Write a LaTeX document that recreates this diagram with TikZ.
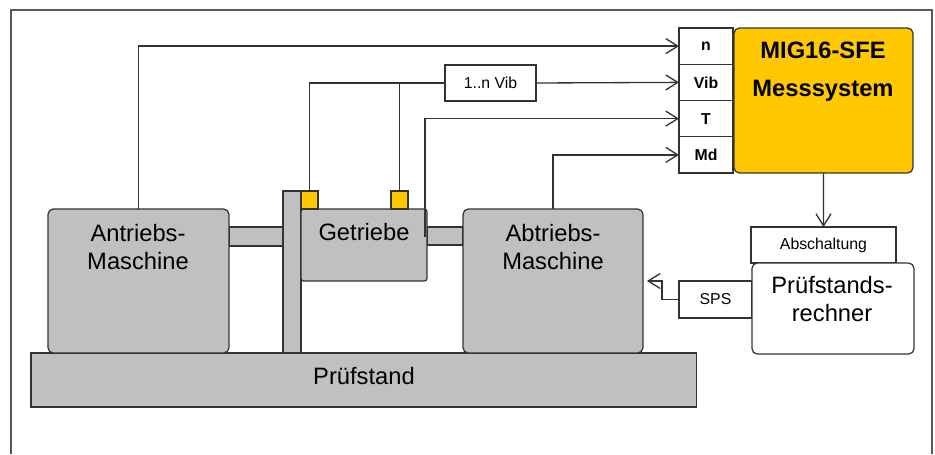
\documentclass[tikz,border=0pt]{standalone}
\usepackage{fontspec}
\setmainfont{Liberation Sans}
\usetikzlibrary{arrows.meta,positioning}
\definecolor{mgray}{HTML}{C0C0C0}
\definecolor{myel}{HTML}{FFC800}
\definecolor{lne}{HTML}{333333}
\tikzset{
  mch/.style={rectangle,rounded corners=3pt,draw=lne,fill=mgray,line width=.7pt,inner sep=0pt,outer sep=0pt,anchor=north west},
  shf/.style={rectangle,draw=lne,fill=mgray,line width=.7pt,inner sep=0pt,outer sep=0pt,anchor=north west},
  sen/.style={rectangle,draw=lne,fill=myel,line width=.7pt,inner sep=0pt,outer sep=0pt,anchor=north west,minimum width=3.4mm,minimum height=3.6mm},
  ibx/.style={rectangle,draw=lne,fill=white,line width=.7pt,inner sep=0pt,outer sep=0pt,minimum width=10.8mm,minimum height=7.25mm,font=\fontsize{9}{10}\selectfont\bfseries},
  bx/.style={rectangle,draw=lne,fill=white,line width=.7pt,inner sep=0pt,outer sep=0pt,anchor=north west,font=\fontsize{9}{10}\selectfont},
  frm/.style={draw=black!65,line width=.9pt},
  wire/.style={draw=lne,line width=.75pt},
  sig/.style={wire,-{Straight Barb[length=2.4mm,width=3mm]}},
  lbig/.style={font=\fontsize{13.5}{16}\selectfont,align=center,inner sep=0pt},
}

\begin{document}
\begin{tikzpicture}[x=0.02cm,y=-0.02cm]
\useasboundingbox (0,0) rectangle (935,454);
\draw[frm] (11,454) -- (11,10) -- (932,10) -- (932,454);
% --- test bench with drive, gearbox and load
\node[shf,minimum width=13.32cm,minimum height=1.08cm] (pst) at (31,353) {};
\node[lbig] (pstT) at (364,376) {Prüfstand};
\node[shf,minimum width=1.08cm,minimum height=0.38cm] (shfA) at (229,227) {};
\node[shf,minimum width=0.72cm,minimum height=0.36cm] (shfB) at (427,227) {};
\node[shf,minimum width=0.36cm,minimum height=3.24cm] (col) at (283,191) {};
\node[mch,minimum width=3.62cm,minimum height=2.88cm] (antr) at (48,209) {};
\node[lbig] (antrT) at (138,247) {Antriebs-\\Maschine};
\node[mch,rounded corners=1.5pt,minimum width=2.52cm,minimum height=1.44cm] (getr) at (301,209) {};
\node[lbig] (getrT) at (364,232) {Getriebe};
\node[sen] (senA) at (301,191) {};
\node[sen] (senB) at (391,191) {};
\node[mch,minimum width=3.6cm,minimum height=2.88cm] (abtr) at (463,209) {};
\node[lbig] (abtrT) at (553,247) {Abtriebs-\\Maschine};
% --- measuring system with its four inputs
\node[ibx,anchor=north west] (nIn) at (679,28) {n};
\node[ibx,below=0pt of nIn] (vibIn) {Vib};
\node[ibx,below=0pt of vibIn] (tIn) {T};
\node[ibx,below=0pt of tIn] (mdIn) {Md};
\node[mch,fill=myel,minimum width=3.58cm,minimum height=2.9cm] (mig) at (734,28) {};
\node[lbig,font=\fontsize{13.5}{21.6}\selectfont\bfseries] (migT) at (823,72) {MIG16-SFE\\Messsystem};
\node[bx,minimum width=1.82cm,minimum height=0.72cm] (vibx) at (445,65) {1..n Vib};
% --- test bench computer
\node[bx,minimum width=2.9cm,minimum height=0.72cm] (absch) at (751,227) {Abschaltung};
\node[bx,minimum width=1.46cm,minimum height=0.74cm] (sps) at (679,281) {SPS};
\node[mch,fill=white,minimum width=3.24cm,minimum height=1.82cm] (rech) at (752,263) {};
\node[lbig] (rechT) at (832,299) {Prüfstands-\\rechner};
% --- signal lines
\coordinate (tpick) at (425,237);
\draw[sig] (antr.north) |- (nIn.west);
\draw[wire] (senA.north) |- (vibx.west);
\draw[wire] (senB.north) -- (senB.north |- vibx.west);
\draw[sig] (vibx.east) -- (vibIn.west);
\draw[sig] (tpick) |- (tIn.west);
\draw[sig] (abtr.north) |- (mdIn.west);
\draw[sig] (mig.south) -- (absch.north);
\draw[sig,shorten >=0.08cm] (sps.west) -- ++(-17,0) |- (abtr.east);
\end{tikzpicture}
\end{document}
